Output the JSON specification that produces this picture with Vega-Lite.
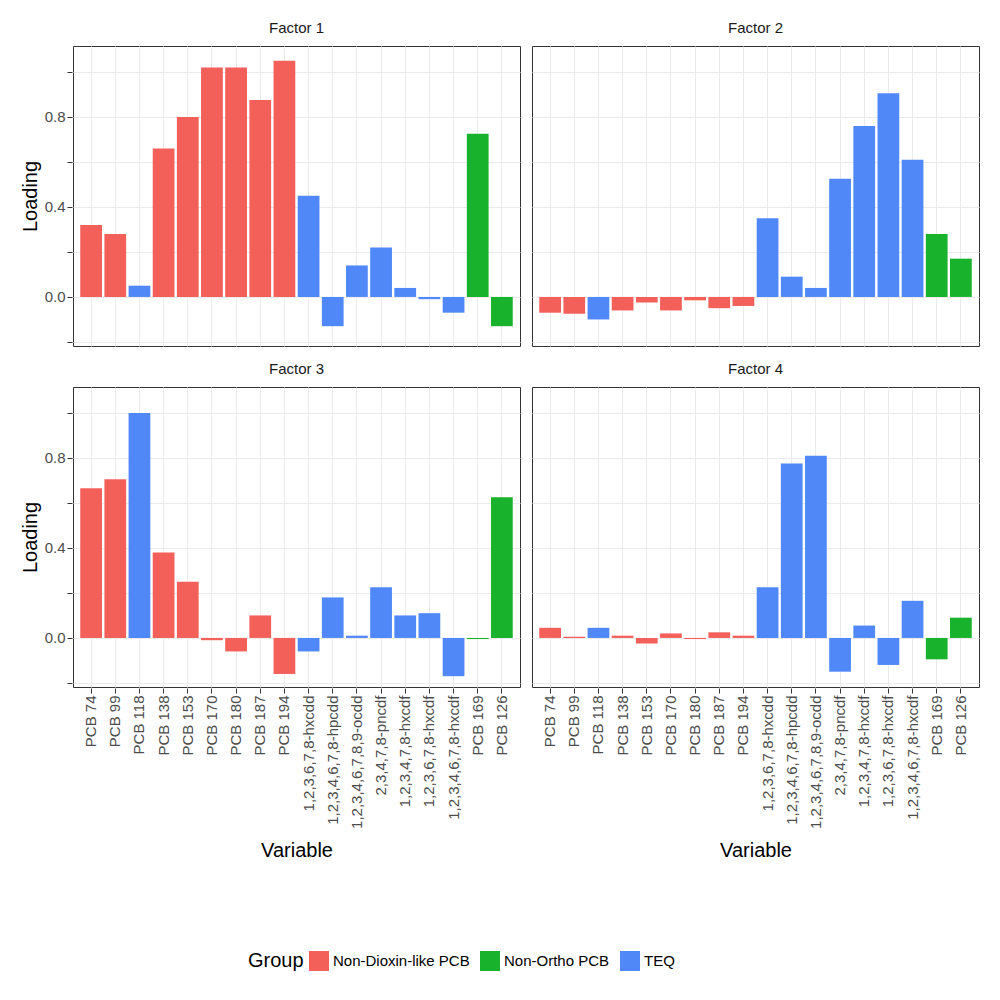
{
  "$schema": "https://vega.github.io/schema/vega-lite/v6.json",
  "background": "white",
  "padding": {"left": 20, "top": 20, "right": 10, "bottom": 10},
  "data": {"values": [
    {"f":"Factor 1","v":"PCB 74","g":"Non-Dioxin-like PCB","l":0.32},
    {"f":"Factor 1","v":"PCB 99","g":"Non-Dioxin-like PCB","l":0.28},
    {"f":"Factor 1","v":"PCB 118","g":"TEQ","l":0.05},
    {"f":"Factor 1","v":"PCB 138","g":"Non-Dioxin-like PCB","l":0.66},
    {"f":"Factor 1","v":"PCB 153","g":"Non-Dioxin-like PCB","l":0.80},
    {"f":"Factor 1","v":"PCB 170","g":"Non-Dioxin-like PCB","l":1.02},
    {"f":"Factor 1","v":"PCB 180","g":"Non-Dioxin-like PCB","l":1.02},
    {"f":"Factor 1","v":"PCB 187","g":"Non-Dioxin-like PCB","l":0.875},
    {"f":"Factor 1","v":"PCB 194","g":"Non-Dioxin-like PCB","l":1.05},
    {"f":"Factor 1","v":"1,2,3,6,7,8-hxcdd","g":"TEQ","l":0.45},
    {"f":"Factor 1","v":"1,2,3,4,6,7,8-hpcdd","g":"TEQ","l":-0.13},
    {"f":"Factor 1","v":"1,2,3,4,6,7,8,9-ocdd","g":"TEQ","l":0.14},
    {"f":"Factor 1","v":"2,3,4,7,8-pncdf","g":"TEQ","l":0.22},
    {"f":"Factor 1","v":"1,2,3,4,7,8-hxcdf","g":"TEQ","l":0.04},
    {"f":"Factor 1","v":"1,2,3,6,7,8-hxcdf","g":"TEQ","l":-0.01},
    {"f":"Factor 1","v":"1,2,3,4,6,7,8-hxcdf","g":"TEQ","l":-0.07},
    {"f":"Factor 1","v":"PCB 169","g":"Non-Ortho PCB","l":0.725},
    {"f":"Factor 1","v":"PCB 126","g":"Non-Ortho PCB","l":-0.13},
    {"f":"Factor 2","v":"PCB 74","g":"Non-Dioxin-like PCB","l":-0.07},
    {"f":"Factor 2","v":"PCB 99","g":"Non-Dioxin-like PCB","l":-0.075},
    {"f":"Factor 2","v":"PCB 118","g":"TEQ","l":-0.10},
    {"f":"Factor 2","v":"PCB 138","g":"Non-Dioxin-like PCB","l":-0.06},
    {"f":"Factor 2","v":"PCB 153","g":"Non-Dioxin-like PCB","l":-0.025},
    {"f":"Factor 2","v":"PCB 170","g":"Non-Dioxin-like PCB","l":-0.06},
    {"f":"Factor 2","v":"PCB 180","g":"Non-Dioxin-like PCB","l":-0.015},
    {"f":"Factor 2","v":"PCB 187","g":"Non-Dioxin-like PCB","l":-0.05},
    {"f":"Factor 2","v":"PCB 194","g":"Non-Dioxin-like PCB","l":-0.04},
    {"f":"Factor 2","v":"1,2,3,6,7,8-hxcdd","g":"TEQ","l":0.35},
    {"f":"Factor 2","v":"1,2,3,4,6,7,8-hpcdd","g":"TEQ","l":0.09},
    {"f":"Factor 2","v":"1,2,3,4,6,7,8,9-ocdd","g":"TEQ","l":0.04},
    {"f":"Factor 2","v":"2,3,4,7,8-pncdf","g":"TEQ","l":0.525},
    {"f":"Factor 2","v":"1,2,3,4,7,8-hxcdf","g":"TEQ","l":0.76},
    {"f":"Factor 2","v":"1,2,3,6,7,8-hxcdf","g":"TEQ","l":0.905},
    {"f":"Factor 2","v":"1,2,3,4,6,7,8-hxcdf","g":"TEQ","l":0.61},
    {"f":"Factor 2","v":"PCB 169","g":"Non-Ortho PCB","l":0.28},
    {"f":"Factor 2","v":"PCB 126","g":"Non-Ortho PCB","l":0.17},
    {"f":"Factor 3","v":"PCB 74","g":"Non-Dioxin-like PCB","l":0.665},
    {"f":"Factor 3","v":"PCB 99","g":"Non-Dioxin-like PCB","l":0.705},
    {"f":"Factor 3","v":"PCB 118","g":"TEQ","l":1.0},
    {"f":"Factor 3","v":"PCB 138","g":"Non-Dioxin-like PCB","l":0.38},
    {"f":"Factor 3","v":"PCB 153","g":"Non-Dioxin-like PCB","l":0.25},
    {"f":"Factor 3","v":"PCB 170","g":"Non-Dioxin-like PCB","l":-0.01},
    {"f":"Factor 3","v":"PCB 180","g":"Non-Dioxin-like PCB","l":-0.06},
    {"f":"Factor 3","v":"PCB 187","g":"Non-Dioxin-like PCB","l":0.10},
    {"f":"Factor 3","v":"PCB 194","g":"Non-Dioxin-like PCB","l":-0.16},
    {"f":"Factor 3","v":"1,2,3,6,7,8-hxcdd","g":"TEQ","l":-0.06},
    {"f":"Factor 3","v":"1,2,3,4,6,7,8-hpcdd","g":"TEQ","l":0.18},
    {"f":"Factor 3","v":"1,2,3,4,6,7,8,9-ocdd","g":"TEQ","l":0.01},
    {"f":"Factor 3","v":"2,3,4,7,8-pncdf","g":"TEQ","l":0.225},
    {"f":"Factor 3","v":"1,2,3,4,7,8-hxcdf","g":"TEQ","l":0.10},
    {"f":"Factor 3","v":"1,2,3,6,7,8-hxcdf","g":"TEQ","l":0.11},
    {"f":"Factor 3","v":"1,2,3,4,6,7,8-hxcdf","g":"TEQ","l":-0.17},
    {"f":"Factor 3","v":"PCB 169","g":"Non-Ortho PCB","l":-0.005},
    {"f":"Factor 3","v":"PCB 126","g":"Non-Ortho PCB","l":0.625},
    {"f":"Factor 4","v":"PCB 74","g":"Non-Dioxin-like PCB","l":0.045},
    {"f":"Factor 4","v":"PCB 99","g":"Non-Dioxin-like PCB","l":0.005},
    {"f":"Factor 4","v":"PCB 118","g":"TEQ","l":0.045},
    {"f":"Factor 4","v":"PCB 138","g":"Non-Dioxin-like PCB","l":0.01},
    {"f":"Factor 4","v":"PCB 153","g":"Non-Dioxin-like PCB","l":-0.025},
    {"f":"Factor 4","v":"PCB 170","g":"Non-Dioxin-like PCB","l":0.02},
    {"f":"Factor 4","v":"PCB 180","g":"Non-Dioxin-like PCB","l":-0.005},
    {"f":"Factor 4","v":"PCB 187","g":"Non-Dioxin-like PCB","l":0.025},
    {"f":"Factor 4","v":"PCB 194","g":"Non-Dioxin-like PCB","l":0.01},
    {"f":"Factor 4","v":"1,2,3,6,7,8-hxcdd","g":"TEQ","l":0.225},
    {"f":"Factor 4","v":"1,2,3,4,6,7,8-hpcdd","g":"TEQ","l":0.775},
    {"f":"Factor 4","v":"1,2,3,4,6,7,8,9-ocdd","g":"TEQ","l":0.81},
    {"f":"Factor 4","v":"2,3,4,7,8-pncdf","g":"TEQ","l":-0.15},
    {"f":"Factor 4","v":"1,2,3,4,7,8-hxcdf","g":"TEQ","l":0.055},
    {"f":"Factor 4","v":"1,2,3,6,7,8-hxcdf","g":"TEQ","l":-0.12},
    {"f":"Factor 4","v":"1,2,3,4,6,7,8-hxcdf","g":"TEQ","l":0.165},
    {"f":"Factor 4","v":"PCB 169","g":"Non-Ortho PCB","l":-0.095},
    {"f":"Factor 4","v":"PCB 126","g":"Non-Ortho PCB","l":0.09}
  ]},
  "facet": {"field": "f", "type": "nominal", "title": null,
    "header": {"labelFontSize": 15, "labelFont": "Liberation Sans", "labelColor": "#1a1a1a", "labelPadding": 10}},
  "columns": 2,
  "spacing": {"column": 10, "row": 14},
  "spec": {
    "width": 447,
    "height": 300,
    "mark": {"type": "bar", "opacity": 1},
    "encoding": {
      "x": {"field": "v", "type": "nominal", "title": "Variable",
        "sort": ["PCB 74","PCB 99","PCB 118","PCB 138","PCB 153","PCB 170","PCB 180","PCB 187","PCB 194","1,2,3,6,7,8-hxcdd","1,2,3,4,6,7,8-hpcdd","1,2,3,4,6,7,8,9-ocdd","2,3,4,7,8-pncdf","1,2,3,4,7,8-hxcdf","1,2,3,6,7,8-hxcdf","1,2,3,4,6,7,8-hxcdf","PCB 169","PCB 126"],
        "scale": {"paddingInner": 0.1, "paddingOuter": 0.3},
        "axis": {"labelAngle": -90, "grid": true, "titlePadding": 12}},
      "y": {"field": "l", "type": "quantitative", "title": "Loading",
        "scale": {"domain": [-0.218, 1.115], "nice": false, "zero": false},
        "axis": {"values": [-0.2, 0, 0.2, 0.4, 0.6, 0.8, 1.0],
          "labelExpr": "datum.value == 0 || datum.value == 0.4 || datum.value == 0.8 ? format(datum.value, '.1f') : ''"}},
      "color": {"field": "g", "type": "nominal", "title": "Group",
        "scale": {"domain": ["Non-Dioxin-like PCB", "Non-Ortho PCB", "TEQ"], "range": ["#F35F59", "#18B22C", "#5088F8"]},
        "legend": {"orient": "none", "legendX": 175, "legendY": 905, "direction": "horizontal", "titleOrient": "left", "symbolType": "square", "symbolSize": 400, "symbolStrokeWidth": 0, "symbolOpacity": 1}}
    }
  },
  "config": {
    "font": "Liberation Sans",
    "view": {"stroke": "#333333", "strokeWidth": 1},
    "axis": {"domain": false, "gridColor": "#ebebeb", "labelFontSize": 15, "labelColor": "#4d4d4d", "titleFontSize": 20, "titleFontWeight": "normal", "tickColor": "#333333", "titleColor": "#000"},
    "legend": {"labelFontSize": 15, "titleFontSize": 20, "titleFontWeight": "normal", "labelColor": "#000"}
  }
}
